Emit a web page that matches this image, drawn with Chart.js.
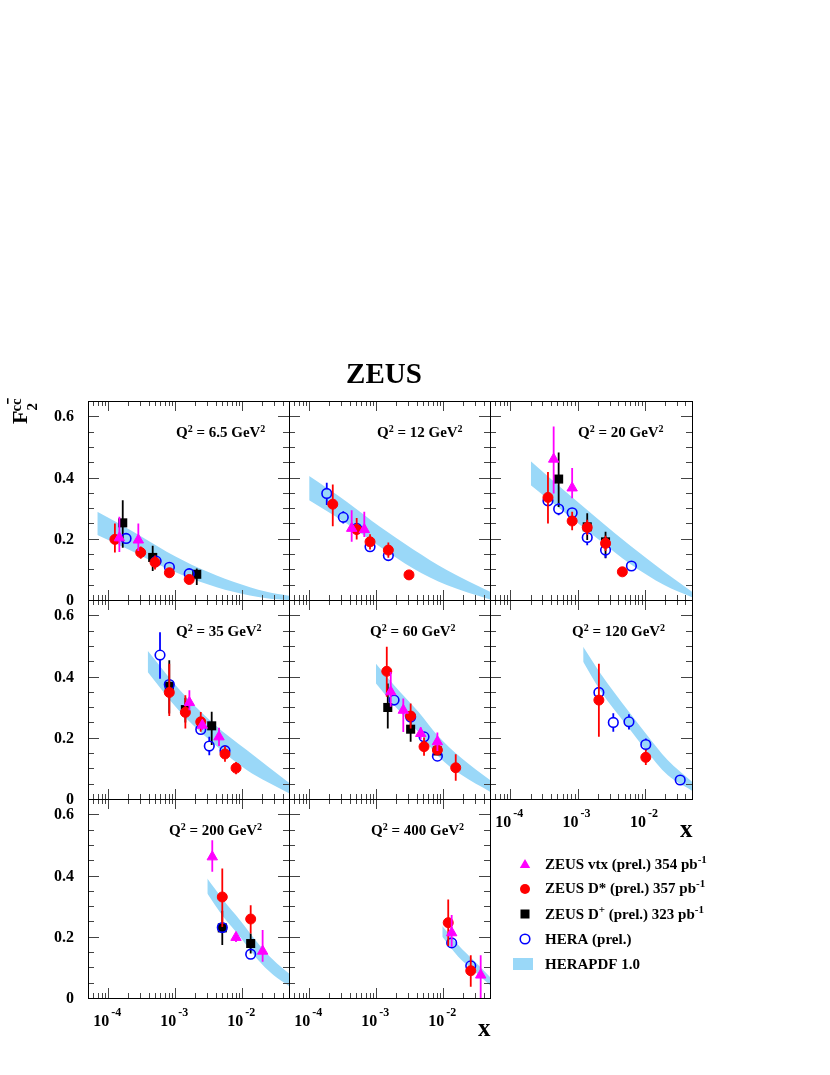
<!DOCTYPE html>
<html>
<head>
<meta charset="utf-8">
<title>ZEUS F2 charm</title>
<script src="https://cdn.jsdelivr.net/npm/chart.js@4.4.1/dist/chart.umd.min.js"></script>
<style>
  body { margin: 0; background: #fff; }
  #page { position: relative; width: 830px; height: 1075px; }
  #page canvas { position: absolute; left: 0; top: 0; }
</style>
</head>
<body>
<div id="page"></div>
<script>
// one entry per panel (Q2 bin), left to right, top to bottom
var q2Bins = ['6.5', '12', '20', '35', '60', '120', '200', '400'];

// ZEUS vtx (prel.)
var vtxX  = [[1.47e-4, 2.82e-4], [4.31e-4, 6.65e-4], [4.41e-4, 8.3e-4], [1.63e-3, 2.54e-3, 4.51e-3], [1.65e-3, 2.54e-3, 4.62e-3, 8.2e-3], [], [3.58e-3, 8.09e-3, 2.02e-2], [1.34e-2, 3.63e-2]];
var vtxY  = [[0.203, 0.196], [0.234, 0.23], [0.46, 0.366], [0.315, 0.241, 0.203], [0.35, 0.29, 0.214, 0.187], [], [0.461, 0.198, 0.153], [0.213, 0.075]];
var vtxLo = [[0.157, 0.16], [0.19, 0.206], [0.348, 0.332], [0.29, 0.225, 0.173], [0.301, 0.219, 0.194, 0.157], [], [0.412, 0.183, 0.118], [0.167, 0.0]];
var vtxHi = [[0.272, 0.25], [0.293, 0.288], [0.567, 0.431], [0.355, 0.257, 0.233], [0.415, 0.328, 0.234, 0.217], [], [0.515, 0.213, 0.222], [0.271, 0.14]];

// ZEUS D* (prel.)
var dstX  = [[1.26e-4, 3.06e-4, 5.0e-4, 8.2e-4, 1.62e-3], [2.25e-4, 5.12e-4, 8.1e-4, 1.52e-3, 3.09e-3], [3.63e-4, 8.3e-4, 1.39e-3, 2.6e-3, 4.62e-3], [8.17e-4, 1.42e-3, 2.41e-3, 5.54e-3, 8.1e-3], [1.44e-3, 3.27e-3, 5.18e-3, 8.2e-3, 1.54e-2], [2.07e-3, 1.03e-2], [5.05e-3, 1.34e-2], [1.19e-2, 2.58e-2]];
var dstY  = [[0.198, 0.155, 0.123, 0.089, 0.067], [0.313, 0.23, 0.19, 0.163, 0.082], [0.335, 0.258, 0.237, 0.185, 0.092], [0.348, 0.283, 0.252, 0.147, 0.101], [0.417, 0.271, 0.171, 0.16, 0.102], [0.323, 0.136], [0.33, 0.258], [0.246, 0.089]];
var dstLo = [[0.155, 0.135, 0.10, 0.074, 0.052], [0.241, 0.198, 0.165, 0.138, 0.07], [0.25, 0.228, 0.212, 0.16, 0.08], [0.271, 0.23, 0.22, 0.122, 0.081], [0.334, 0.23, 0.141, 0.148, 0.06], [0.203, 0.111], [0.232, 0.211], [0.17, 0.037]];
var dstHi = [[0.25, 0.175, 0.145, 0.104, 0.082], [0.377, 0.268, 0.215, 0.188, 0.094], [0.418, 0.288, 0.262, 0.21, 0.104], [0.442, 0.339, 0.284, 0.172, 0.121], [0.497, 0.312, 0.201, 0.172, 0.146], [0.442, 0.161], [0.423, 0.303], [0.322, 0.14]];

// ZEUS D+ (prel.)
var dpX  = [[1.65e-4, 4.62e-4, 2.1e-3], [], [5.23e-4, 1.39e-3, 2.6e-3], [8.17e-4, 1.42e-3, 3.51e-3], [1.49e-3, 3.27e-3, 8.2e-3], [], [5.05e-3, 1.34e-2], []];
var dpY  = [[0.252, 0.139, 0.084], [], [0.395, 0.239, 0.19], [0.368, 0.292, 0.239], [0.299, 0.228, 0.157], [], [0.229, 0.178], []];
var dpLo = [[0.171, 0.095, 0.049], [], [0.304, 0.196, 0.136], [0.279, 0.25, 0.176], [0.23, 0.187, 0.147], [], [0.173, 0.145], []];
var dpHi = [[0.326, 0.177, 0.103], [], [0.482, 0.283, 0.223], [0.453, 0.33, 0.285], [0.377, 0.263, 0.167], [], [0.285, 0.211], []];

// HERA (prel.)
var heraX  = [[1.85e-4, 5.2e-4, 8.2e-4, 1.62e-3], [1.83e-4, 3.23e-4, 5.12e-4, 8.1e-4, 1.52e-3], [3.63e-4, 5.23e-4, 8.3e-4, 1.39e-3, 2.6e-3, 6.3e-3], [5.94e-4, 8.17e-4, 2.41e-3, 3.23e-3, 5.54e-3], [1.85e-3, 3.27e-3, 5.18e-3, 8.2e-3], [2.07e-3, 3.39e-3, 5.79e-3, 1.03e-2, 3.34e-2], [5.05e-3, 1.34e-2], [1.34e-2, 2.58e-2]];
var heraY  = [[0.201, 0.127, 0.107, 0.086], [0.348, 0.27, 0.234, 0.174, 0.145], [0.324, 0.297, 0.285, 0.204, 0.163, 0.111], [0.47, 0.374, 0.227, 0.173, 0.158], [0.323, 0.268, 0.203, 0.14], [0.348, 0.25, 0.252, 0.178, 0.062], [0.23, 0.143], [0.18, 0.105]];
var heraLo = [[0.19, 0.117, 0.099, 0.079], [0.31, 0.25, 0.222, 0.162, 0.133], [0.31, 0.277, 0.27, 0.179, 0.138, 0.103], [0.393, 0.36, 0.215, 0.143, 0.146], [0.311, 0.254, 0.19, 0.128], [0.335, 0.22, 0.227, 0.158, 0.055], [0.22, 0.133], [0.17, 0.095]];
var heraHi = [[0.212, 0.137, 0.115, 0.093], [0.383, 0.29, 0.246, 0.186, 0.157], [0.338, 0.317, 0.3, 0.229, 0.188, 0.119], [0.545, 0.388, 0.239, 0.203, 0.17], [0.335, 0.282, 0.216, 0.152], [0.361, 0.28, 0.277, 0.198, 0.069], [0.24, 0.153], [0.19, 0.115]];

// HERAPDF 1.0 band
var bandX = [
  [6.89e-5, 2.37e-4, 7.48e-4, 2.35e-3, 7.38e-3, 2.32e-2, 5.0e-2],
  [1.0e-4, 3.63e-4, 1.14e-3, 3.58e-3, 1.13e-2, 5.0e-2],
  [2.02e-4, 6.21e-4, 1.96e-3, 6.15e-3, 1.93e-2, 5.0e-2],
  [3.89e-4, 1.18e-3, 3.71e-3, 1.17e-2, 5.0e-2],
  [9.93e-4, 1.91e-3, 4.26e-3, 8.45e-3, 1.89e-2, 5.0e-2],
  [1.21e-3, 2.19e-3, 5.79e-3, 1.03e-2, 2.17e-2, 5.0e-2],
  [3.02e-3, 5.23e-3, 9.29e-3, 1.65e-2, 2.92e-2, 5.0e-2],
  [9.7e-3, 1.68e-2, 2.99e-2, 5.0e-2]
];
var bandHi = [
  [0.288, 0.223, 0.158, 0.103, 0.060, 0.027, 0.014],
  [0.405, 0.321, 0.239, 0.165, 0.098, 0.027],
  [0.453, 0.359, 0.266, 0.176, 0.092, 0.027],
  [0.484, 0.355, 0.247, 0.160, 0.053],
  [0.442, 0.368, 0.285, 0.205, 0.133, 0.062],
  [0.497, 0.41, 0.285, 0.214, 0.127, 0.056],
  [0.39, 0.32, 0.254, 0.184, 0.124, 0.080],
  [0.235, 0.173, 0.118, 0.069]
];
var bandLo = [
  [0.212, 0.158, 0.103, 0.060, 0.027, 0.006, 0.0],
  [0.326, 0.25, 0.174, 0.103, 0.049, 0.002],
  [0.375, 0.288, 0.201, 0.117, 0.049, 0.009],
  [0.415, 0.285, 0.182, 0.095, 0.019],
  [0.377, 0.303, 0.219, 0.140, 0.078, 0.024],
  [0.448, 0.353, 0.231, 0.16, 0.078, 0.027],
  [0.341, 0.265, 0.2, 0.129, 0.075, 0.039],
  [0.2, 0.135, 0.086, 0.042]
];

// axis ticks
var xTickValues = [1e-4, 1e-3, 1e-2];
var xTickExps = ['-4', '-3', '-2'];
var yTickValues = [0, 0.2, 0.4, 0.6];
var yTickLabels = ['0', '0.2', '0.4', '0.6'];

// legend (second item: 1 = superscript)
var legendText = [
  [['ZEUS vtx (prel.) 354 pb', 0], ['-1', 1]],
  [['ZEUS D* (prel.) 357 pb', 0], ['-1', 1]],
  [['ZEUS D', 0], ['+', 1], [' (prel.) 323 pb', 0], ['-1', 1]],
  [['HERA (prel.)', 0]],
  [['HERAPDF 1.0', 0]]
];

var MAG = '#ff00ff', RED = '#ff0000', BLK = '#000000', BLUE = '#0000ff', BAND = '#9ad8f8';
var W = 830, H = 1075;
var COLS = [[88, 289], [289, 490], [490, 692]];
var ROWS = [[401, 600], [600, 799], [799, 998]];
var qLabelLeft = [88, 88, 88, 88, 81, 82, 81, 82];
var FONT = '"Liberation Serif", "Times New Roman", serif';

function setFont(ctx, size) { ctx.font = 'bold ' + size + 'px ' + FONT; }

// parts: [text, size, dy]
function rich(ctx, parts, x, y) {
  var cx = x;
  ctx.textAlign = 'left';
  parts.forEach(function (p) {
    setFont(ctx, p[1]);
    ctx.fillText(p[0], cx, y + (p[2] || 0));
    cx += ctx.measureText(p[0]).width;
  });
  return cx;
}

function pts(xs, ys) {
  return xs.map(function (x, i) { return { x: x, y: ys[i] }; });
}

var xMinor = [];
for (var e = -5; e <= -2; e++) {
  for (var k = 1; k <= 9; k++) {
    var v = k * Math.pow(10, e);
    if (v > 5.01e-5 && v < 0.0499) xMinor.push({ v: v, major: k === 1 });
  }
}

var panelPlugin = {
  id: 'zeusPanel',
  beforeDatasetDraw: function (chart, args) {
    var ds = chart.data.datasets[args.index];
    if (!ds.errLo) return;
    var ctx = chart.ctx, xs = chart.scales.x, ys = chart.scales.y;
    var r = ds.open ? ds.pointRadius : 0;
    ctx.save();
    ctx.strokeStyle = ds.borderColor;
    ctx.lineWidth = 1.8;
    ds.data.forEach(function (pt, i) {
      var px = xs.getPixelForValue(pt.x), py = ys.getPixelForValue(pt.y);
      var top = ys.getPixelForValue(ds.errHi[i]), bot = ys.getPixelForValue(ds.errLo[i]);
      ctx.beginPath();
      if (top < py - r) { ctx.moveTo(px, top); ctx.lineTo(px, py - r); }
      if (bot > py + r) { ctx.moveTo(px, py + r); ctx.lineTo(px, bot); }
      ctx.stroke();
    });
    ctx.restore();
  },
  afterDraw: function (chart, args, opts) {
    var p = opts.panel, col = p % 3;
    var ctx = chart.ctx, a = chart.chartArea, xs = chart.scales.x, ys = chart.scales.y;
    ctx.save();

    // ticks, inward on all four sides
    ctx.strokeStyle = '#444';
    ctx.lineWidth = 1;
    ctx.beginPath();
    xMinor.forEach(function (t) {
      var px = Math.round(xs.getPixelForValue(t.v)) + 0.5;
      var L = t.major ? 10 : 5;
      ctx.moveTo(px, a.bottom); ctx.lineTo(px, a.bottom - L);
      ctx.moveTo(px, a.top); ctx.lineTo(px, a.top + L);
    });
    for (var i = 1; i <= 12; i++) {
      var py = Math.round(ys.getPixelForValue(i * 0.05)) + 0.5;
      var L = i % 4 === 0 ? 11 : 6;
      ctx.moveTo(a.left, py); ctx.lineTo(a.left + L, py);
      ctx.moveTo(a.right, py); ctx.lineTo(a.right - L, py);
    }
    ctx.stroke();

    // frame
    ctx.strokeStyle = '#000';
    ctx.strokeRect(a.left + 0.5, a.top + 0.5, a.right - a.left, a.bottom - a.top);

    ctx.fillStyle = '#000';
    ctx.textBaseline = 'alphabetic';

    // Q2 label
    rich(ctx, [['Q', 15], ['2', 10, -5], [' = ' + q2Bins[p] + ' GeV', 15], ['2', 10, -5]],
      a.left + qLabelLeft[p], a.top + 36);

    // y tick labels on the left column
    if (col === 0) {
      setFont(ctx, 16);
      ctx.textAlign = 'right';
      ctx.textBaseline = 'middle';
      yTickValues.forEach(function (v, j) {
        ctx.fillText(yTickLabels[j], a.left - 14, ys.getPixelForValue(v) + 1);
      });
      ctx.textBaseline = 'alphabetic';
    }

    // x tick labels under the bottom panels
    if (p >= 5) {
      xTickValues.forEach(function (v, j) {
        var px = xs.getPixelForValue(v);
        setFont(ctx, 16);
        ctx.textAlign = 'right';
        ctx.fillText('10', px + 1, a.bottom + 28);
        setFont(ctx, 12);
        ctx.textAlign = 'left';
        ctx.fillText(xTickExps[j], px + 3, a.bottom + 18);
      });
    }
    if (p === 5 || p === 7) {
      setFont(ctx, 25);
      ctx.textAlign = 'left';
      ctx.fillText('x', a.right - 12, a.bottom + 38);
    }

    if (p === 0) {
      setFont(ctx, 29);
      ctx.textAlign = 'center';
      ctx.fillText('ZEUS', 384, 383);
      // F2 cc-bar, rotated
      ctx.save();
      ctx.translate(27, 424);
      ctx.rotate(-Math.PI / 2);
      setFont(ctx, 22);
      ctx.textAlign = 'left';
      ctx.fillText('F', 0, 0);
      var fw = ctx.measureText('F').width;
      setFont(ctx, 15);
      ctx.fillText('2', fw, 10);
      ctx.fillText('cc', fw - 1, -6);
      var cw = ctx.measureText('c').width;
      ctx.fillRect(fw + cw, -20, cw - 1, 1.5);
      ctx.restore();
    }

    if (p === 7) {
      var lx = 525, tx = 545;
      var cy = [865, 889, 914, 939, 964];
      var by = [869, 893, 919, 944, 969];
      // markers
      ctx.fillStyle = MAG;
      ctx.beginPath();
      ctx.moveTo(lx, cy[0] - 6); ctx.lineTo(lx + 5.2, cy[0] + 3); ctx.lineTo(lx - 5.2, cy[0] + 3);
      ctx.closePath(); ctx.fill();
      ctx.fillStyle = RED;
      ctx.beginPath(); ctx.arc(lx, cy[1], 5, 0, Math.PI * 2); ctx.fill();
      ctx.fillStyle = BLK;
      ctx.fillRect(lx - 4.5, cy[2] - 4.5, 9, 9);
      ctx.strokeStyle = BLUE; ctx.lineWidth = 1.6;
      ctx.beginPath(); ctx.arc(lx, cy[3], 4.8, 0, Math.PI * 2); ctx.stroke();
      ctx.fillStyle = BAND;
      ctx.fillRect(513, 958, 20, 12);
      ctx.fillStyle = '#000';
      legendText.forEach(function (parts, j) {
        rich(ctx, parts.map(function (q) { return q[1] ? [q[0], 11, -6] : [q[0], 15, 0]; }), tx, by[j]);
      });
    }
    ctx.restore();
  }
};

function buildConfig(p) {
  var row = Math.floor(p / 3), col = p % 3;
  var bandStyle = {
    showLine: true, pointRadius: 0, borderWidth: 1, borderColor: 'rgba(0,0,0,0)',
    backgroundColor: BAND, cubicInterpolationMode: 'monotone'
  };
  return {
    type: 'line',
    data: {
      datasets: [
        { label: 'ZEUS vtx (prel.)', data: pts(vtxX[p], vtxY[p]), errLo: vtxLo[p], errHi: vtxHi[p],
          showLine: false, pointStyle: 'triangle', pointRadius: 6, backgroundColor: MAG, borderColor: MAG, borderWidth: 1, order: 1 },
        { label: 'ZEUS D* (prel.)', data: pts(dstX[p], dstY[p]), errLo: dstLo[p], errHi: dstHi[p],
          showLine: false, pointStyle: 'circle', pointRadius: 5, backgroundColor: RED, borderColor: RED, borderWidth: 1, order: 2 },
        { label: 'HERA (prel.)', data: pts(heraX[p], heraY[p]), errLo: heraLo[p], errHi: heraHi[p], open: true,
          showLine: false, pointStyle: 'circle', pointRadius: 4.8, backgroundColor: 'rgba(0,0,0,0)', borderColor: BLUE, borderWidth: 1.6, order: 3 },
        { label: 'ZEUS D+ (prel.)', data: pts(dpX[p], dpY[p]), errLo: dpLo[p], errHi: dpHi[p],
          showLine: false, pointStyle: 'rect', pointRadius: 6.4, backgroundColor: BLK, borderColor: BLK, borderWidth: 0, order: 4 },
        Object.assign({ label: 'HERAPDF 1.0', data: pts(bandX[p], bandHi[p]), fill: '+1', order: 5 }, bandStyle),
        Object.assign({ label: 'HERAPDF 1.0 low', data: pts(bandX[p], bandLo[p]), fill: false, order: 6 }, bandStyle)
      ]
    },
    options: {
      responsive: false,
      animation: false,
      devicePixelRatio: 1,
      events: [],
      layout: { padding: { left: COLS[col][0], right: W - COLS[col][1], top: ROWS[row][0], bottom: H - ROWS[row][1] } },
      scales: {
        x: { type: 'logarithmic', min: 5e-5, max: 0.05, display: false },
        y: { type: 'linear', min: 0, max: 0.65, display: false }
      },
      plugins: {
        legend: { display: false },
        tooltip: { enabled: false },
        zeusPanel: { panel: p }
      }
    },
    plugins: [panelPlugin]
  };
}

var page = document.getElementById('page');
for (var p = 0; p < 8; p++) {
  var cv = document.createElement('canvas');
  cv.width = W; cv.height = H;
  cv.style.width = W + 'px'; cv.style.height = H + 'px';
  page.appendChild(cv);
  new Chart(cv.getContext('2d'), buildConfig(p));
}
</script>
</body>
</html>
